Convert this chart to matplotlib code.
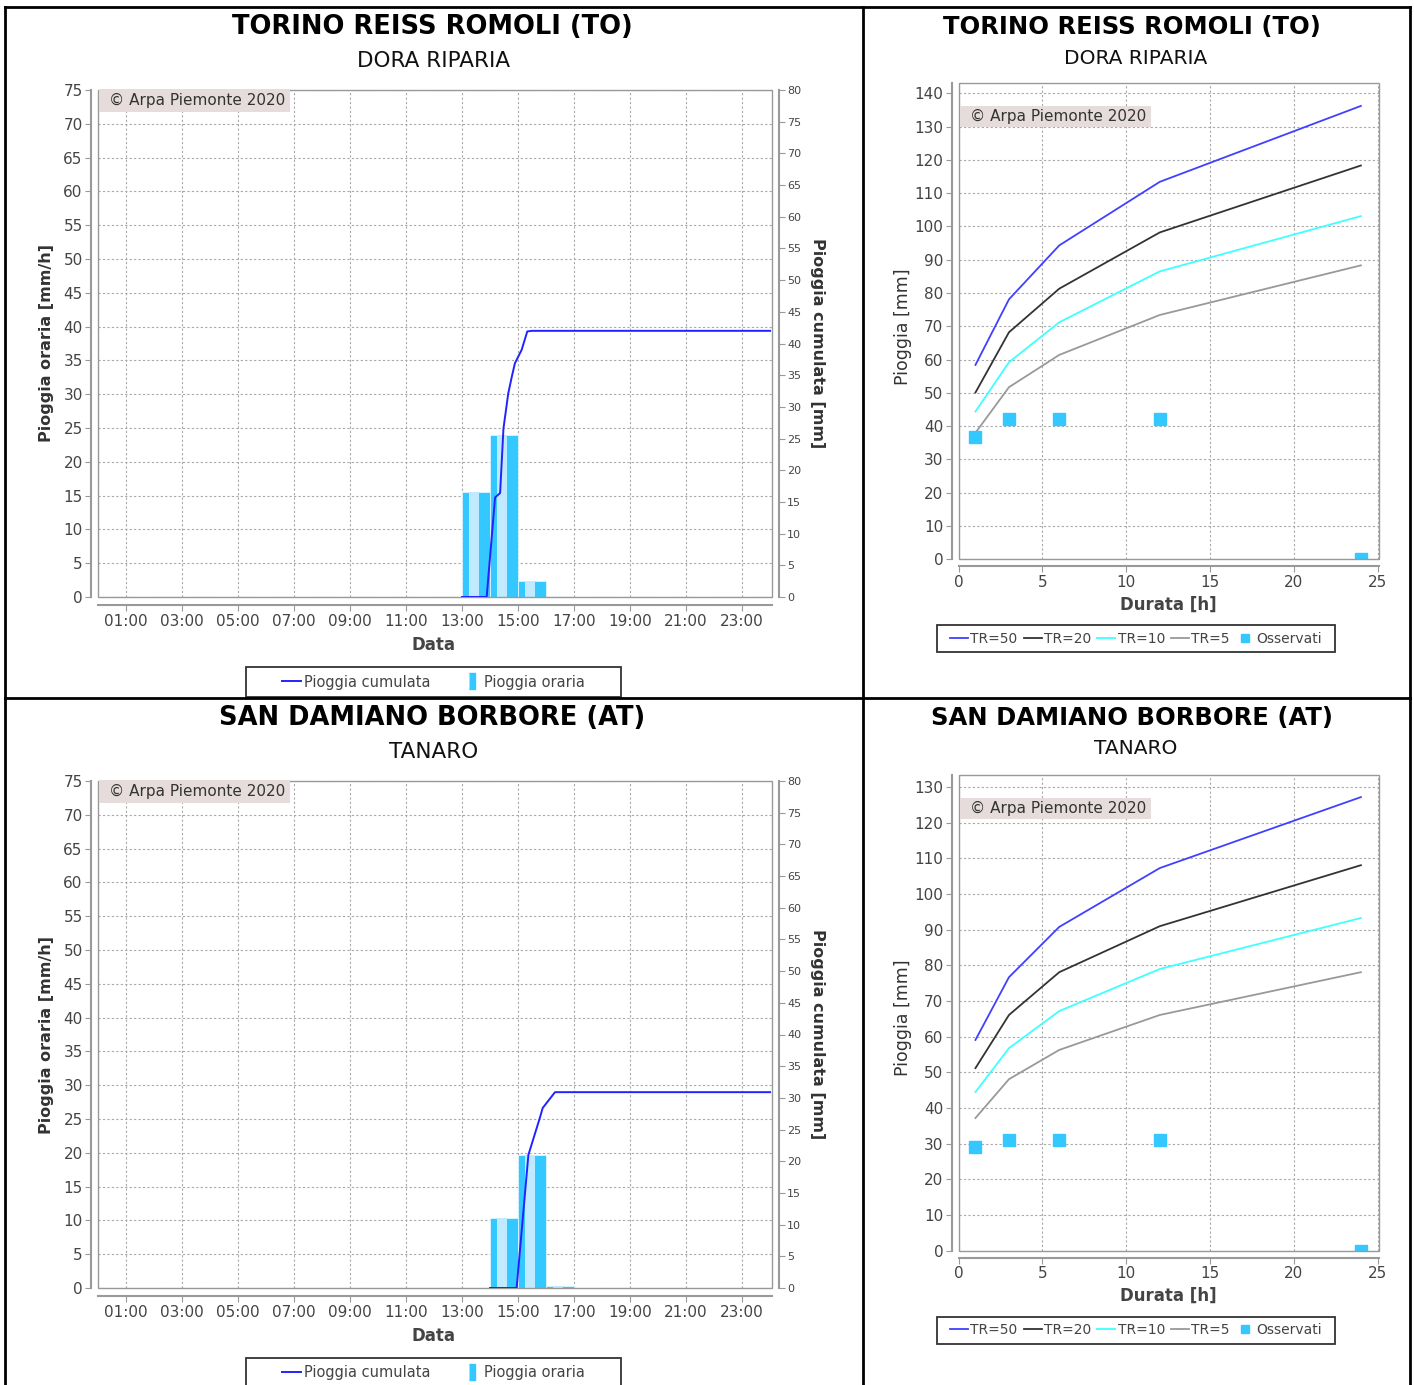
import numpy as np
import matplotlib
matplotlib.use('Agg')
from matplotlib import pyplot as plt
from matplotlib.lines import Line2D
from matplotlib.patches import Rectangle

# --- data ---
hours = np.arange(24)
hour_labels = ['01:00', '03:00', '05:00', '07:00', '09:00', '11:00',
               '13:00', '15:00', '17:00', '19:00', '21:00', '23:00']
hour_ticks = [1, 3, 5, 7, 9, 11, 13, 15, 17, 19, 21, 23]

# Torino Reiss Romoli - hourly rain [mm/h] and cumulated rain [mm]
torino_rain = np.zeros(24)
torino_rain[13] = 15.5
torino_rain[14] = 24.0
torino_rain[15] = 2.3
torino_cum_t = [13.0, 13.88, 14.18, 14.36, 14.48, 14.65, 14.78, 14.89, 15.13, 15.33, 15.49, 24]
torino_cum_v = [0, 0, 15.7, 16.4, 26.6, 32.1, 34.8, 36.9, 39.0, 41.9, 42.0, 42.0]

# San Damiano Borbore
sandam_rain = np.zeros(24)
sandam_rain[14] = 10.4
sandam_rain[15] = 19.7
sandam_rain[16] = 0.3
sandam_cum_t = [14.0, 14.95, 15.37, 15.79, 15.88, 16.32, 24]
sandam_cum_v = [0, 0, 21.0, 27.0, 28.4, 30.9, 30.9]

# depth-duration curves
durations = [1, 3, 6, 12, 24]
torino_tr50 = [58.4, 78.1, 94.3, 113.4, 136.2]
torino_tr20 = [50.1, 68.2, 81.3, 98.2, 118.3]
torino_tr10 = [44.4, 59.2, 71.2, 86.5, 103.1]
torino_tr5 = [38.0, 51.7, 61.4, 73.4, 88.3]
torino_obs = [36.7, 42.0, 42.0, 42.0, 0.0]

sandam_tr50 = [59.1, 76.7, 90.8, 107.3, 127.2]
sandam_tr20 = [51.2, 66.1, 78.1, 91.0, 108.1]
sandam_tr10 = [44.5, 56.8, 67.2, 79.0, 93.3]
sandam_tr5 = [37.2, 48.1, 56.3, 66.1, 78.1]
sandam_obs = [29.2, 31.0, 31.0, 31.0, 0.0]

# --- layout helpers (pixels, y from top) ---
W, H = 1414, 1385
fig = plt.figure(figsize=(W / 100, H / 100), dpi=100)
fig.patch.set_facecolor('white')

def rect(x0, y0, x1, y1):
    return [x0 / W, 1 - y1 / H, (x1 - x0) / W, (y1 - y0) / H]

def ftext(x, y, s, **kw):
    fig.text(x / W, 1 - y / H, s, ha='center', va='center', **kw)

def fline(xs, ys, lw=2):
    fig.add_artist(Line2D([x / W for x in xs], [1 - y / H for y in ys],
                          color='black', lw=lw))

def legend_box(x0, y0, x1, y1, handles, labels, fs, **kw):
    fig.add_artist(Rectangle((x0 / W, 1 - y1 / H), (x1 - x0) / W, (y1 - y0) / H,
                             transform=fig.transFigure, fill=False,
                             edgecolor='#333333', lw=1.3))
    fig.legend(handles, labels, loc='center',
               bbox_to_anchor=((x0 + x1) / 2 / W, 1 - (y0 + y1) / 2 / H),
               ncol=len(labels), frameon=False, fontsize=fs,
               labelcolor='#444444', **kw)

grid_kw = dict(color='#a8a8a8', linestyle=(0, (2, 2)), linewidth=0.8)
axis_col = '#999999'
tick_col = '#444444'
bar_col = '#33c8ff'
stripe_col = '#bfeaff'
cum_col = '#2222ff'


def copyright(x0, y0, x1, y1):
    # box given in pixel coords
    fig.add_artist(Rectangle((x0 / W, 1 - y1 / H), (x1 - x0) / W, (y1 - y0) / H,
                             transform=fig.transFigure, facecolor='#e6dcdc',
                             edgecolor='none', zorder=3))
    fig.text((x0 + 10) / W, 1 - (y0 + y1) / 2 / H, '\u00a9 Arpa Piemonte 2020',
             ha='left', va='center', fontsize=11, color='#333333', zorder=4)


def rain_panel(px, rain, cum_t, cum_v, title, sub, top):
    ax = fig.add_axes(rect(*px))
    ax.set_xlim(0, 24.07)
    ax.set_ylim(0, 75)
    ax.set_axisbelow(True)
    ax.bar(hours, rain, width=1, align='edge', color=bar_col,
           edgecolor='#dff5ff', linewidth=0.6, zorder=2)
    ax.bar(hours + 0.25, rain, width=0.35, align='edge', color=stripe_col, zorder=2)
    ax.set_xticks(hour_ticks)
    ax.set_xticklabels(hour_labels)
    ax.set_yticks(np.arange(0, 76, 5))
    ax.grid(True, **grid_kw)
    for s in ['top', 'right']:
        ax.spines[s].set_visible(False)
    ax.spines['left'].set_position(('outward', 5))
    ax.spines['bottom'].set_position(('outward', 6))
    for s in ['left', 'bottom']:
        ax.spines[s].set_color(axis_col)
        ax.spines[s].set_linewidth(1.5)
    ax.tick_params(length=4, width=0.8, color=axis_col, labelcolor=tick_col,
                   labelsize=11, pad=2)

    ax2 = ax.twinx()
    ax2.set_ylim(0, 80)
    ax2.set_yticks(np.arange(0, 81, 5))
    ax2.add_patch(Rectangle((0, 0), 1, 1, transform=ax2.transAxes, fill=False,
                            edgecolor=axis_col, lw=1, clip_on=False, zorder=2))
    ax2.plot(cum_t, cum_v, color=cum_col, lw=1.4, zorder=3)
    for s in ['top', 'left', 'bottom']:
        ax2.spines[s].set_visible(False)
    ax2.spines['right'].set_position(('outward', 5))
    ax2.spines['right'].set_color(axis_col)
    ax2.spines['right'].set_linewidth(1.5)
    ax2.tick_params(length=4, width=0.8, color=axis_col, labelcolor=tick_col,
                    labelsize=8, pad=2)

    x0, y0, x1, y1 = px
    ftext((x0 + x1) / 2 - 3, top + 20, title, fontsize=18.5, fontweight='bold', color='black')
    ftext((x0 + x1) / 2 - 1, top + 54, sub, fontsize=15.5, color='#111111')
    ftext(47, (y0 + y1) / 2, 'Pioggia oraria [mm/h]', fontsize=11.5, fontweight='bold',
          color='#333333', rotation=90)
    ftext(818, (y0 + y1) / 2, 'Pioggia cumulata [mm]', fontsize=11.5, fontweight='bold',
          color='#333333', rotation=270)
    ftext(433, y1 + 48, 'Data', fontsize=12, fontweight='bold', color='#444444')
    copyright(x0 + 1, y0 - 1, 290, y0 + 22)

    handles = [Line2D([], [], color=cum_col, lw=1.4),
               Line2D([], [], color=bar_col, linestyle='None',
                      marker=[(-0.35, -1), (0.35, -1), (0.35, 1), (-0.35, 1)],
                      markersize=11)]
    legend_box(246, y1 + 70, 621, y1 + 100, handles,
               ['Pioggia cumulata', 'Pioggia oraria'], 10.5,
               handlelength=1.3, handletextpad=0.2, columnspacing=2.2)


def idf_panel(px, ymax, tr50, tr20, tr10, tr5, obs, title, sub, top):
    ax = fig.add_axes(rect(*px))
    ax.set_xlim(0, 25.1)
    ax.set_ylim(0, ymax)
    ax.set_axisbelow(True)
    ax.plot(durations, tr50, color='#4040ff', lw=1.3)
    ax.plot(durations, tr20, color='#333333', lw=1.3)
    ax.plot(durations, tr10, color='#40ffff', lw=1.3)
    ax.plot(durations, tr5, color='#999999', lw=1.3)
    ax.plot(durations, obs, linestyle='None', marker='s', markersize=8.5,
            color=bar_col, clip_on=True)
    ax.set_xticks(np.arange(0, 26, 5))
    ax.set_yticks(np.arange(0, ymax, 10))
    ax.grid(True, **grid_kw)
    for s in ['top', 'right']:
        ax.spines[s].set_visible(False)
    ax.spines['left'].set_position(('outward', 5))
    ax.spines['bottom'].set_position(('outward', 5))
    for s in ['left', 'bottom']:
        ax.spines[s].set_color(axis_col)
        ax.spines[s].set_linewidth(1.5)
    ax.tick_params(length=4, width=0.8, color=axis_col, labelcolor=tick_col,
                   labelsize=11, pad=2)
    ax.add_patch(Rectangle((0, 0), 1, 1, transform=ax.transAxes, fill=False,
                           edgecolor=axis_col, lw=1, clip_on=False, zorder=5))

    x0, y0, x1, y1 = px
    ftext(1132, top + 20, title, fontsize=17.5, fontweight='bold', color='black')
    ftext(1136, top + 51, sub, fontsize=14.5, color='#111111')
    ftext(903, (y0 + y1) / 2 + 5, 'Pioggia [mm]', fontsize=12.5, color='#333333', rotation=90)
    ftext(1168, y1 + 45, 'Durata [h]', fontsize=12, fontweight='bold', color='#444444')
    copyright(x0 + 1, y0 + 23, 1151, y0 + 44)

    handles = [Line2D([], [], color='#4040ff', lw=1.3),
               Line2D([], [], color='#333333', lw=1.3),
               Line2D([], [], color='#40ffff', lw=1.3),
               Line2D([], [], color='#999999', lw=1.3),
               Line2D([], [], color=bar_col, linestyle='None', marker='s', markersize=6)]
    legend_box(937, y1 + 66, 1335, y1 + 93, handles,
               ['TR=50', 'TR=20', 'TR=10', 'TR=5', 'Osservati'], 10,
               handlelength=1.3, handletextpad=0.15, columnspacing=0.45)


rain_panel((98, 90, 772, 597), torino_rain, torino_cum_t, torino_cum_v,
           'TORINO REISS ROMOLI (TO)', 'DORA RIPARIA', 7)
rain_panel((98, 781, 772, 1288), sandam_rain, sandam_cum_t, sandam_cum_v,
           'SAN DAMIANO BORBORE (AT)', 'TANARO', 698)
idf_panel((958.7, 83.3, 1379.3, 559.3), 143.0, torino_tr50, torino_tr20, torino_tr10,
          torino_tr5, torino_obs, 'TORINO REISS ROMOLI (TO)', 'DORA RIPARIA', 7)
idf_panel((958.7, 775, 1379.3, 1250.7), 133.4, sandam_tr50, sandam_tr20, sandam_tr10,
          sandam_tr5, sandam_obs, 'SAN DAMIANO BORBORE (AT)', 'TANARO', 698)

# table borders
fline([5, 1410], [7, 7])
fline([5, 1410], [698, 698])
fline([5, 5], [7, 1385])
fline([862.5, 862.5], [7, 1385])
fline([1410, 1410], [7, 1385])

fig.savefig('out.png', dpi=100)
